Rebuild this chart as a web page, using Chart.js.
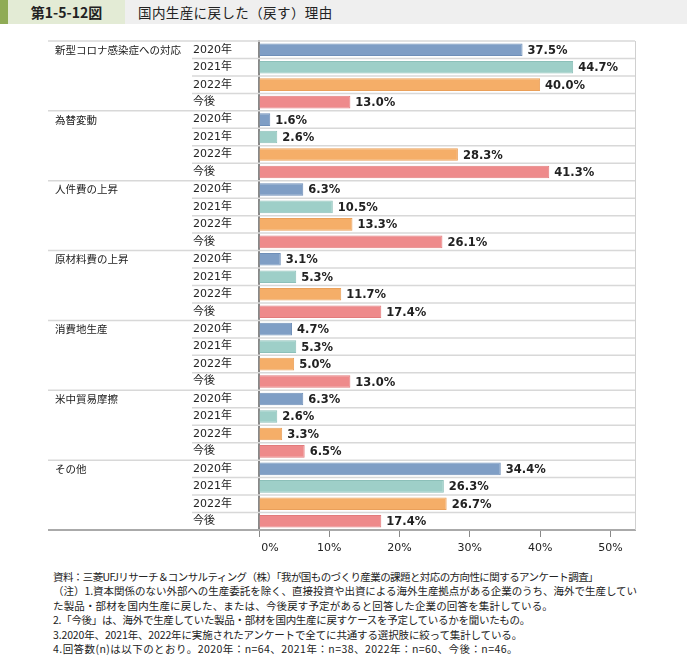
<!DOCTYPE html>
<html lang="ja">
<head>
    <meta charset="UTF-8">
    <title>第1-5-12図 国内生産に戻した（戻す）理由</title>
    <script src="https://cdn.jsdelivr.net/npm/chart.js"></script>
    <style>
        body {
            margin: 0;
            width: 687px;
            height: 655px;
            background: #fff;
            font-family: "Noto Sans CJK JP", sans-serif;
            color: #222;
            position: relative;
            overflow: hidden;
        }

        /* title band */
        .header {
            position: absolute;
            left: 0; top: 0;
            width: 687px; height: 24px;
            background: #efefef;
        }
        .header .strip {
            position: absolute;
            left: 0; top: 0;
            width: 8px; height: 24px;
            background: #8fab55;
        }
        .header .num {
            position: absolute;
            left: 8px; top: 0;
            width: 117px; height: 24px;
            background: #e3ebd5;
            text-align: center;
            line-height: 24px;
            font-weight: bold;
            font-size: 14px;
        }
        .header .ttl {
            position: absolute;
            left: 138px; top: 0;
            line-height: 24px;
            font-size: 13.5px;
            letter-spacing: 0.4px;
        }

        .chart-box {
            position: absolute;
            left: 0; top: 30px;
            width: 687px; height: 530px;
        }

        .notes {
            position: absolute;
            left: 53px; top: 570px;
            font-size: 10.5px;
            line-height: 14.4px;
            white-space: nowrap;
            color: #222;
        }
        .notes span { display: inline-block; }
    </style>
</head>
<body>
    <div class="header">
        <div class="strip"></div>
        <div class="num">第1-5-12図</div>
        <div class="ttl">国内生産に戻した（戻す）理由</div>
    </div>

    <div class="chart-box">
        <canvas id="reason-chart"></canvas>
    </div>

    <div class="notes">
        <div><span data-w="545">資料：三菱UFJリサーチ＆コンサルティング（株）「我が国ものづくり産業の課題と対応の方向性に関するアンケート調査」</span></div>
        <div><span data-w="584">（注）1.資本関係のない外部への生産委託を除く、直接投資や出資による海外生産拠点がある企業のうち、海外で生産してい</span></div>
        <div><span data-w="500">た製品・部材を国内生産に戻した、または、今後戻す予定があると回答した企業の回答を集計している。</span></div>
        <div><span data-w="477">2.「今後」は、海外で生産していた製品・部材を国内生産に戻すケースを予定しているかを聞いたもの。</span></div>
        <div><span data-w="469">3.2020年、2021年、2022年に実施されたアンケートで全てに共通する選択肢に絞って集計している。</span></div>
        <div><span data-w="465">4.回答数(n)は以下のとおり。2020年：n=64、2021年：n=38、2022年：n=60、今後：n=46。</span></div>
    </div>

    <script>
        // reasons (groups) and survey periods
        const reasons = ['新型コロナ感染症への対応', '為替変動', '人件費の上昇', '原材料費の上昇', '消費地生産', '米中貿易摩擦', 'その他'];
        const periods = ['2020年', '2021年', '2022年', '今後'];

        // values in %, one array per period, in the order of reasons
        const v2020   = [37.5, 1.6, 6.3, 3.1, 4.7, 6.3, 34.4];
        const v2021   = [44.7, 2.6, 10.5, 5.3, 5.3, 2.6, 26.3];
        const v2022   = [40.0, 28.3, 13.3, 11.7, 5.0, 3.3, 26.7];
        const vFuture = [13.0, 41.3, 26.1, 17.4, 13.0, 6.5, 17.4];

        const xTicks = [0, 10, 20, 30, 40, 50];

        const fills   = ['#7f9ec5', '#9ecfc8', '#f5ae68', '#ee8a8b'];
        const borders = ['#6f8fb8', '#8cc0b9', '#eaa05a', '#e27b7c'];

        // stretch each note line to the width it has in the original
        function fitNotes() {
            document.querySelectorAll('.notes span').forEach(s => {
                s.style.letterSpacing = '0px';
                const target = +s.dataset.w;
                const n = [...s.textContent].length;
                const diff = target - s.getBoundingClientRect().width;
                s.style.letterSpacing = (diff / n) + 'px';
            });
        }
        fitNotes();
        if (document.fonts) document.fonts.ready.then(fitNotes);

        // flatten into one row per reason x period
        const series = [v2020, v2021, v2022, vFuture];
        const rowLabels = [], rowValues = [], rowFill = [], rowBorder = [];
        reasons.forEach((r, i) => {
            periods.forEach((p, j) => {
                rowLabels.push(p);
                rowValues.push(series[j][i]);
                rowFill.push(fills[j]);
                rowBorder.push(borders[j]);
            });
        });

        // row separators and reason names
        const rowsPlugin = {
            id: 'rows',
            beforeDatasetsDraw(chart) {
                const { ctx, chartArea, scales: { y } } = chart;
                const n = rowLabels.length;
                const rowH = (chartArea.bottom - chartArea.top) / n;
                ctx.save();
                ctx.strokeStyle = '#d8d8d8';
                ctx.lineWidth = 1.5;
                for (let i = 0; i < n; i++) {
                    const yy = y.getPixelForValue(i) - rowH / 2;
                    const x0 = (i % periods.length === 0) ? 48 : 192;
                    ctx.beginPath();
                    ctx.moveTo(x0, yy);
                    ctx.lineTo(chartArea.right, yy);
                    ctx.stroke();
                }
                // right frame
                ctx.strokeStyle = '#d0d0d0';
                ctx.lineWidth = 1;
                ctx.beginPath();
                ctx.moveTo(chartArea.right + 0.5, chartArea.top);
                ctx.lineTo(chartArea.right + 0.5, chartArea.bottom);
                ctx.stroke();
                // bottom line, extended under the labels
                ctx.strokeStyle = '#aaaaaa';
                ctx.lineWidth = 2;
                ctx.beginPath();
                ctx.moveTo(48, chartArea.bottom);
                ctx.lineTo(chartArea.right, chartArea.bottom);
                ctx.stroke();

                ctx.fillStyle = '#222';
                ctx.font = '10.5px "Noto Sans CJK JP"';
                ctx.textAlign = 'left';
                ctx.textBaseline = 'middle';
                reasons.forEach((r, i) => {
                    ctx.fillText(r, 55, y.getPixelForValue(i * periods.length));
                });
                ctx.restore();
            },
            afterDatasetsDraw(chart) {
                const { ctx } = chart;
                const meta = chart.getDatasetMeta(0);
                ctx.save();
                ctx.fillStyle = '#222';
                ctx.font = 'bold 11.5px "DejaVu Sans"';
                ctx.textAlign = 'left';
                ctx.textBaseline = 'middle';
                meta.data.forEach((bar, i) => {
                    ctx.fillText(rowValues[i].toFixed(1) + '%', bar.x + 5, bar.y + 1);
                });
                ctx.restore();
            }
        };

        const ctx = document.getElementById('reason-chart').getContext('2d');
        new Chart(ctx, {
            type: 'bar',
            data: {
                labels: rowLabels,
                datasets: [{
                    data: rowValues,
                    backgroundColor: rowFill,
                    borderColor: rowBorder,
                    borderWidth: 1,
                    categoryPercentage: 1,
                    barPercentage: 0.72
                }]
            },
            options: {
                indexAxis: 'y',
                responsive: true,
                maintainAspectRatio: false,
                animation: false,
                layout: { padding: { top: 11, left: 193, right: 52, bottom: 0 } },
                plugins: {
                    legend: { display: false },
                    tooltip: { enabled: false }
                },
                scales: {
                    x: {
                        min: 0,
                        max: 53.5,
                        afterBuildTicks(scale) {
                            scale.ticks = xTicks.map(v => ({ value: v }));
                        },
                        afterFit(scale) { scale.height = 30; },
                        grid: {
                            drawOnChartArea: false,
                            drawTicks: true,
                            tickLength: 7,
                            color: '#888'
                        },
                        border: { display: true, color: '#aaaaaa', width: 2 },
                        ticks: {
                            padding: 5,
                            color: '#222',
                            font: { family: 'DejaVu Sans', size: 11 },
                            // the 0% label sits a little right of its tick in the original
                            callback: v => (v === 0 ? '\u2002\u2002\u2002\u2002' : '') + v + '%'
                        }
                    },
                    y: {
                        afterFit(scale) { scale.width = 66; },
                        grid: { display: false },
                        border: { display: true, color: '#888', width: 2 },
                        ticks: {
                            autoSkip: false,
                            crossAlign: 'far',
                            color: '#222',
                            font: { family: '"DejaVu Sans", "Noto Sans CJK JP"', size: 11 }
                        }
                    }
                }
            },
            plugins: [rowsPlugin]
        });
    </script>
</body>
</html>
